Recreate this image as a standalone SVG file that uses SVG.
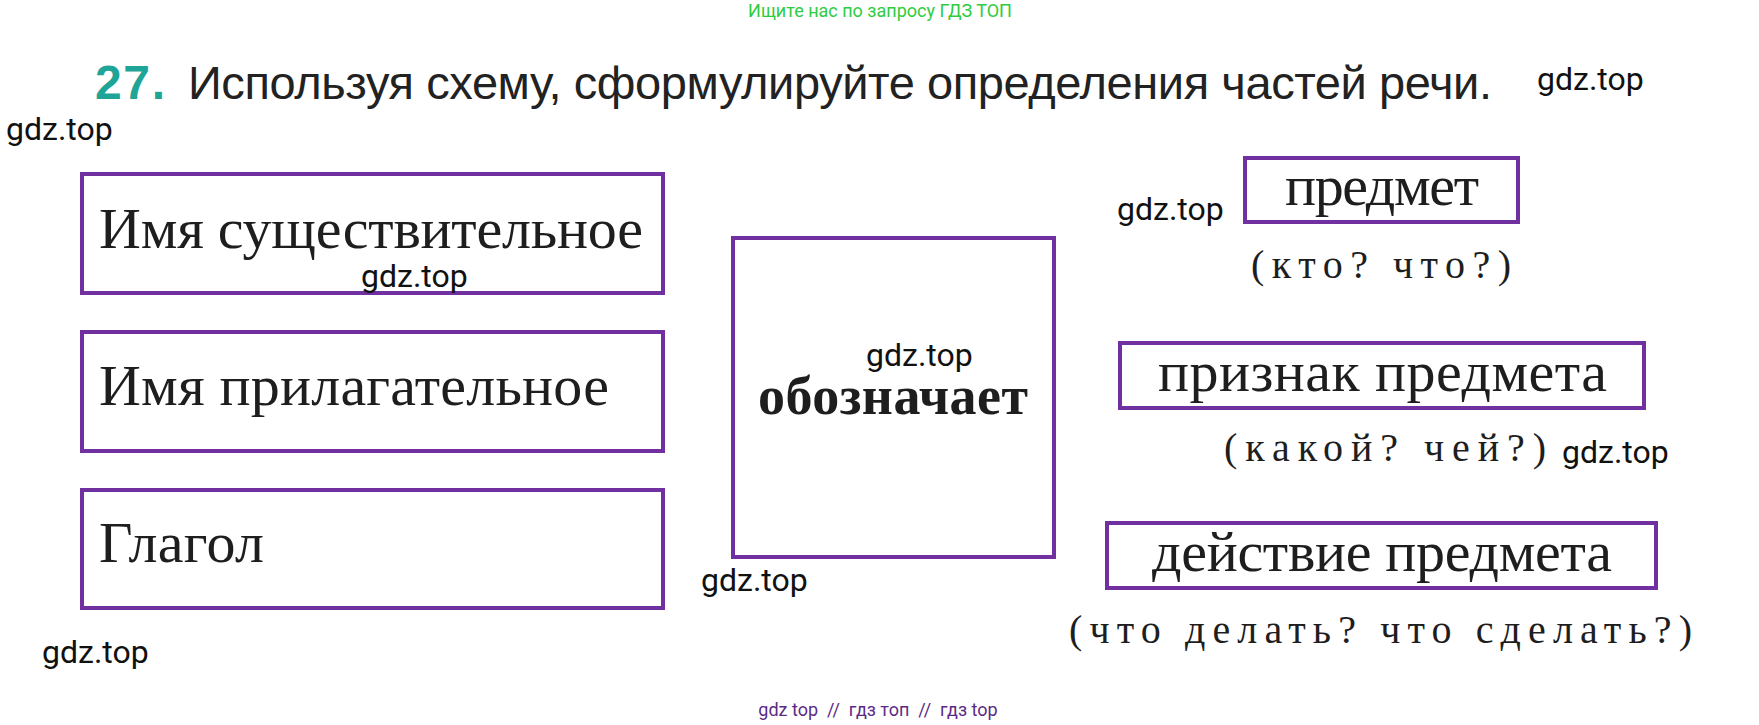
<svg xmlns="http://www.w3.org/2000/svg" width="1759" height="725" viewBox="0 0 1759 725">
<style>
.box{fill:none;stroke:#7030a0;stroke-width:4}
.lbl{font-family:"Liberation Serif","DejaVu Serif",serif;font-size:58px;fill:#1e1e1e}
.q{font-family:"Liberation Serif","DejaVu Serif",serif;font-size:40px;fill:#1e1e1e}
.wm{font-family:Roboto,"Liberation Sans",sans-serif;font-size:32px;fill:#111}
</style>
<rect width="1759" height="725" fill="#fff"/>
<text x="880" y="17" text-anchor="middle" font-family="Roboto,'Liberation Sans',sans-serif" font-size="18" fill="#2ecc40">Ищите нас по запросу ГДЗ ТОП</text>
<g id="title">
<text x="95" y="99" font-family="'Liberation Sans',sans-serif" font-size="48" font-weight="bold" fill="#1fa597" textLength="70">27.</text>
<text x="188" y="99" font-family="'Liberation Sans',sans-serif" font-size="47" fill="#222" textLength="1304">Используя  схему,  сформулируйте  определения  частей  речи.</text>
</g>
<g id="noun">
<rect class="box" x="82" y="174" width="581" height="119"/>
<text class="lbl" x="99" y="248" textLength="544">Имя существительное</text>
</g>
<g id="adjective">
<rect class="box" x="82" y="332" width="581" height="119"/>
<text class="lbl" x="99" y="405" textLength="510">Имя прилагательное</text>
</g>
<g id="verb">
<rect class="box" x="82" y="490" width="581" height="118"/>
<text class="lbl" x="99" y="562" textLength="165">Глагол</text>
</g>
<g id="denotes">
<rect class="box" x="733" y="238" width="321" height="319"/>
<text x="758" y="414" font-family="'Liberation Serif',serif" font-size="54" font-weight="bold" fill="#1e1e1e" textLength="270">обозначает</text>
</g>
<g id="object">
<rect class="box" x="1245" y="158" width="273" height="64"/>
<text class="lbl" x="1285" y="205" textLength="194">предмет</text>
<text class="q" x="1251" y="278" textLength="260">(кто? что?)</text>
</g>
<g id="attribute">
<rect class="box" x="1120" y="343" width="524" height="65"/>
<text class="lbl" x="1158" y="391" textLength="449">признак  предмета</text>
<text class="q" x="1224" y="461" textLength="322">(какой? чей?)</text>
</g>
<g id="action">
<rect class="box" x="1107" y="523" width="549" height="65"/>
<text class="lbl" x="1152" y="571" textLength="460">действие  предмета</text>
<text class="q" x="1069" y="643" textLength="623">(что делать? что сделать?)</text>
</g>
<g id="connectors"></g>
<g id="watermarks">
<text class="wm" x="1537" y="90">gdz.top</text>
<text class="wm" x="6" y="140">gdz.top</text>
<text class="wm" x="361" y="287">gdz.top</text>
<text class="wm" x="1117" y="220">gdz.top</text>
<text class="wm" x="866" y="366">gdz.top</text>
<text class="wm" x="1562" y="463">gdz.top</text>
<text class="wm" x="701" y="591">gdz.top</text>
<text class="wm" x="42" y="663">gdz.top</text>
</g>
<text x="878" y="716" text-anchor="middle" font-family="Roboto,'Liberation Sans',sans-serif" font-size="18" fill="#5b2a86" xml:space="preserve">gdz top  //  гдз топ  //  гдз top</text>
</svg>
